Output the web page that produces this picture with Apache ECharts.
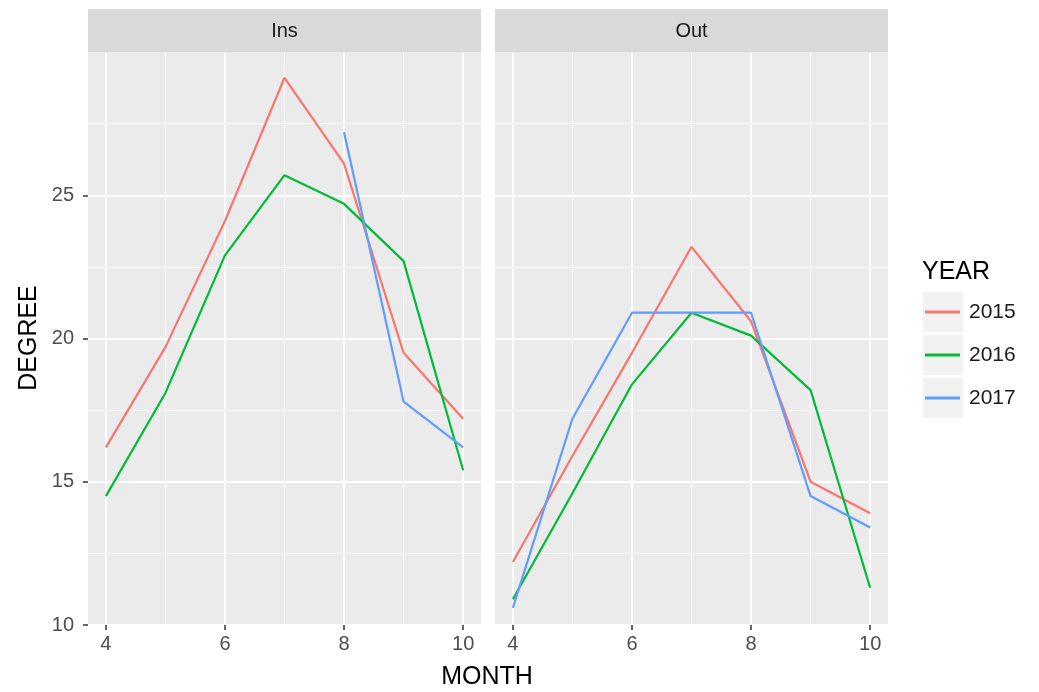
<!DOCTYPE html>
<html>
<head>
<meta charset="utf-8">
<script src="https://cdn.jsdelivr.net/npm/echarts@6/dist/echarts.min.js"></script>
<style>
html,body{margin:0;padding:0;background:#fff;}
#c{width:1039px;height:692px;}
</style>
</head>
<body>
<div id="c"></div>
<script>
// ---- data ----
const months = [4, 5, 6, 7, 8, 9, 10];
const years = ['2015', '2016', '2017'];
const panels = ['Ins', 'Out'];
const ins2015 = [16.2, 19.7, 24.1, 29.1, 26.1, 19.5, 17.2];
const ins2016 = [14.5, 18.1, 22.9, 25.7, 24.7, 22.7, 15.4];
const ins2017 = [null, null, null, null, 27.2, 17.8, 16.2];
const out2015 = [12.2, 15.9, 19.5, 23.2, 20.6, 15.0, 13.9];
const out2016 = [10.9, 14.6, 18.4, 20.9, 20.1, 18.2, 11.3];
const out2017 = [10.6, 17.2, 20.9, 20.9, 20.9, 14.5, 13.4];
const xMajorTicks = [4, 6, 8, 10];
const xMinorTicks = [5, 7, 9];

const colors = ['#F8766D', '#00BA38', '#619CFF'];
const panelValues = [[ins2015, ins2016, ins2017], [out2015, out2016, out2017]];

const FONT = 'Liberation Sans, Arial, Helvetica, sans-serif';
const chart = echarts.init(document.getElementById('c'), null, {renderer: 'canvas'});

const gridLefts = [88, 495];
const gridW = 393;
const grids = gridLefts.map(l => ({
  left: l, width: gridW, top: 52, bottom: 67,
  show: true, backgroundColor: '#EBEBEB', borderWidth: 0, containLabel: false
}));

const xAxes = [];
const yAxes = [];
[0, 1].forEach(g => {
  xAxes.push({
    type: 'value', gridIndex: g, min: 3.7, max: 10.3,
    axisLine: {show: false},
    axisTick: {show: true, length: 5, lineStyle: {color: '#333', width: 1.5}, customValues: xMajorTicks},
    axisLabel: {show: true, customValues: xMajorTicks, color: '#4D4D4D', fontSize: 20, fontFamily: FONT, margin: 9},
    splitLine: {show: true, lineStyle: {color: '#FFFFFF', width: 1.8}}
  });
  yAxes.push({
    type: 'value', gridIndex: g, min: 10, max: 30, interval: 5,
    axisLine: {show: false},
    axisTick: {show: g === 0, length: 5, lineStyle: {color: '#333', width: 1.5}},
    axisLabel: {show: g === 0, color: '#4D4D4D', fontSize: 20, fontFamily: FONT, margin: 14, showMaxLabel: false},
    splitLine: {show: true, lineStyle: {color: '#FFFFFF', width: 1.8}},
    minorTick: {show: false, splitNumber: 2},
    minorSplitLine: {show: true, lineStyle: {color: '#FFFFFF', width: 0.9}}
  });
});
// minor x gridlines helper axes
[0, 1].forEach(g => {
  xAxes.push({
    type: 'value', gridIndex: g, min: 3.7, max: 10.3, position: 'bottom',
    axisLine: {show: false},
    axisTick: {show: false, customValues: xMinorTicks},
    axisLabel: {show: false, customValues: xMinorTicks},
    splitLine: {show: true, lineStyle: {color: '#FFFFFF', width: 0.9}}
  });
});

const series = [];
[0, 1].forEach(g => {
  years.forEach((yr, i) => {
    series.push({
      name: yr, type: 'line', xAxisIndex: g, yAxisIndex: g,
      data: months.map((m, k) => [m, panelValues[g][i][k]]),
      showSymbol: false, symbol: 'none', connectNulls: false,
      lineStyle: {color: colors[i], width: 2.2},
      itemStyle: {color: colors[i]},
      emphasis: {disabled: true}, animation: false
    });
  });
});

const legends = years.map((yr, i) => ({
  data: [{name: yr, icon: 'rect'}],
  orient: 'vertical', left: 925, top: 301 + i * 43,
  itemWidth: 35, itemHeight: 3, selectedMode: false,
  textStyle: {fontSize: 21, fontFamily: FONT, color: '#1A1A1A', lineHeight: 22, padding: [0, 0, 0, 4]},
  padding: 0
}));

const graphics = [];
panels.forEach((p, g) => {
  graphics.push({type: 'rect', z: 100, shape: {x: gridLefts[g], y: 9, width: gridW, height: 43.5}, style: {fill: '#D9D9D9'}});
  graphics.push({type: 'text', z: 101, x: gridLefts[g] + gridW / 2, y: 31,
    style: {text: p, fill: '#1A1A1A', font: '20px ' + FONT, textAlign: 'center', textVerticalAlign: 'middle'}});
});
years.forEach((yr, i) => {
  graphics.push({type: 'rect', z: -1, shape: {x: 923, y: 292 + i * 43, width: 40, height: 40}, style: {fill: '#F2F2F2'}});
});
graphics.push({type: 'text', x: 922, y: 272, style: {text: 'YEAR', fill: '#000', font: '25px ' + FONT, textAlign: 'left', textVerticalAlign: 'middle'}});
graphics.push({type: 'text', x: 487, y: 677, style: {text: 'MONTH', fill: '#000', font: '25px ' + FONT, textAlign: 'center', textVerticalAlign: 'middle'}});
graphics.push({type: 'text', x: 29, y: 338, rotation: Math.PI / 2, style: {text: 'DEGREE', fill: '#000', font: '25px ' + FONT, textAlign: 'center', textVerticalAlign: 'middle'}});

chart.setOption({
  backgroundColor: '#FFFFFF',
  animation: false,
  grid: grids,
  xAxis: xAxes,
  yAxis: yAxes,
  legend: legends,
  graphic: graphics,
  series: series
});
</script>
</body>
</html>
